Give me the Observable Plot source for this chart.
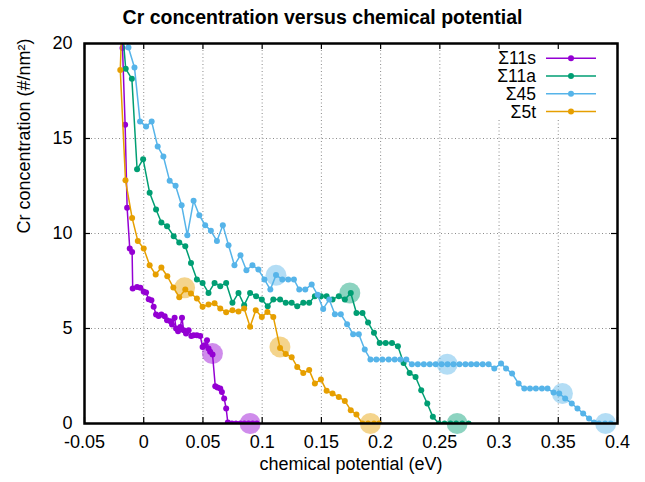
<!DOCTYPE html>
<html>
<head>
<meta charset="utf-8">
<script src="https://cdn.jsdelivr.net/npm/d3@7"></script>
<script src="https://cdn.jsdelivr.net/npm/@observablehq/plot@0.6"></script>
<style>
  body { margin: 0; background: #fff; font-family: "Liberation Sans", Arial, sans-serif; }
  #title { width: 645px; height: 33px; padding-top: 2px; line-height: 30px; text-align: center;
           font-weight: bold; font-size: 19.5px; color: #000; }
</style>
</head>
<body>
<div id="title">Cr concentration versus chemical potential</div>
<div id="chart"></div>
<script>
// ---- data ----
const seriesNames = ["Σ11s", "Σ11a", "Σ45", "Σ5t"];
const seriesColors = ["#9400d3", "#009e73", "#56b4e9", "#e69f00"];

const s11sX = [-0.0195, -0.0179, -0.0157, -0.014, -0.0118, -0.0098, -0.0093, -0.0056, -0.0028, 0, 0.002, 0.0042, 0.0065, 0.0084, 0.0104, 0.0126, 0.0149, 0.0177, 0.0197, 0.0225, 0.0239, 0.0261, 0.0273, 0.029, 0.0309, 0.0323, 0.0337, 0.0357, 0.0379, 0.0402, 0.0421, 0.0449, 0.0477, 0.0497, 0.0513, 0.0534, 0.0547, 0.0561, 0.0581, 0.0604, 0.0623, 0.0646, 0.066, 0.0679, 0.0696, 0.071, 0.0745, 0.078, 0.0815, 0.085, 0.0885, 0.092, 0.0955];
const s11sY = [21, 19.76, 15.72, 11.35, 9.21, 9.03, 7.1, 7.19, 7.14, 6.93, 6.9, 6.54, 6.49, 6.14, 5.74, 5.66, 5.74, 5.65, 5.44, 5.38, 5.21, 5.56, 5.0, 4.86, 5.08, 5.56, 4.91, 4.74, 4.91, 4.61, 4.65, 4.65, 4.61, 4.03, 4.12, 4.38, 3.95, 3.77, 3.63, 1.96, 1.89, 1.84, 1.66, 1.32, 0.79, 0.05, 0, 0, 0, 0, 0, 0, 0];

const s11aX = [-0.0183, -0.0152, -0.01, -0.0056, -0.0005, 0.005, 0.0104, 0.0149, 0.0197, 0.0253, 0.03, 0.0351, 0.0399, 0.0449, 0.0497, 0.0547, 0.0598, 0.0646, 0.0696, 0.0749, 0.08, 0.0848, 0.0898, 0.0949, 0.0997, 0.1047, 0.1094, 0.1151, 0.1199, 0.1249, 0.1296, 0.1347, 0.1397, 0.1445, 0.1496, 0.1544, 0.1594, 0.1647, 0.1698, 0.1748, 0.1796, 0.1847, 0.1894, 0.1944, 0.1992, 0.2043, 0.2096, 0.2146, 0.2194, 0.2245, 0.2295, 0.2343, 0.2394, 0.2441, 0.2492, 0.254, 0.259, 0.2638, 0.2689, 0.2744];
const s11aY = [21, 18.67, 18.14, 13.38, 13.91, 12.14, 11.26, 10.58, 10.38, 9.86, 9.53, 9.33, 8.45, 7.58, 7.4, 6.87, 7.4, 7.23, 7.4, 6.35, 6.87, 6.23, 6.87, 6.7, 6.53, 6.17, 6.53, 6.53, 6.35, 6.35, 6.17, 6.35, 6.35, 6.7, 6.7, 6.7, 6.53, 6.7, 6.53, 6.87, 5.82, 5.82, 5.32, 4.77, 4.24, 4.24, 4.24, 4.07, 3.19, 2.66, 2.45, 1.75, 1.05, 0.35, 0, 0, 0, 0, 0, 0];

const s45X = [-0.0183, -0.0129, -0.0078, -0.0031, 0.002, 0.0067, 0.0118, 0.0166, 0.0219, 0.0269, 0.032, 0.0368, 0.0421, 0.0469, 0.0519, 0.0567, 0.0618, 0.0668, 0.0716, 0.0766, 0.0817, 0.0867, 0.0918, 0.0968, 0.1019, 0.1069, 0.1117, 0.117, 0.122, 0.1268, 0.1313, 0.1364, 0.1418, 0.1468, 0.1515, 0.1566, 0.1614, 0.1664, 0.1717, 0.1768, 0.1816, 0.1866, 0.1914, 0.1964, 0.2015, 0.2068, 0.2119, 0.2167, 0.2217, 0.2264, 0.2314, 0.2365, 0.2415, 0.2465, 0.2515, 0.2565, 0.2615, 0.2666, 0.2716, 0.2764, 0.2811, 0.2862, 0.2912, 0.296, 0.3017, 0.3059, 0.311, 0.3165, 0.3213, 0.3261, 0.3311, 0.3362, 0.3409, 0.346, 0.3508, 0.3558, 0.3614, 0.3662, 0.371, 0.376, 0.3802, 0.3844, 0.3895, 0.3943];
const s45Y = [21, 19.79, 18.74, 15.89, 15.63, 15.89, 14.58, 14.05, 12.77, 12.51, 11.49, 9.91, 11.72, 10.96, 10.44, 10.14, 9.61, 10.44, 9.38, 8.33, 8.86, 8.07, 8.33, 8.1, 7.58, 7.05, 7.81, 7.58, 7.58, 7.58, 7.05, 7.05, 7.32, 6.77, 6.03, 6.53, 5.75, 5.75, 5.23, 4.7, 4.7, 3.89, 3.37, 3.37, 3.37, 3.37, 3.37, 3.37, 3.37, 3.12, 3.12, 3.12, 3.12, 3.12, 3.12, 3.12, 3.12, 3.12, 3.12, 3.12, 3.12, 3.12, 3.12, 2.89, 3.16, 2.89, 2.63, 2.1, 1.84, 1.84, 1.84, 1.84, 1.84, 1.63, 1.58, 1.32, 1.05, 0.79, 0.53, 0.26, 0.05, 0, 0, 0];

const s5tX = [-0.0185, -0.0198, -0.0154, -0.0098, -0.005, 0, 0.005, 0.0101, 0.0149, 0.0199, 0.025, 0.03, 0.0351, 0.0399, 0.0449, 0.0497, 0.0547, 0.0598, 0.0646, 0.0696, 0.0749, 0.08, 0.0848, 0.0898, 0.0946, 0.0997, 0.1044, 0.1094, 0.1151, 0.1199, 0.1249, 0.1296, 0.1347, 0.1397, 0.1445, 0.1496, 0.1544, 0.1594, 0.1647, 0.1698, 0.1748, 0.1796, 0.1847, 0.1894, 0.1944, 0.1987];
const s5tY = [21, 18.61, 12.8, 10.82, 9.61, 9.21, 8.33, 7.84, 8.21, 7.75, 7.16, 6.65, 7.05, 6.84, 6.58, 6.14, 6.26, 6.33, 6.05, 5.86, 5.96, 5.89, 6.05, 5.09, 5.96, 5.61, 5.87, 5.61, 3.98, 3.66, 3.49, 2.98, 2.66, 2.81, 2.1, 2.32, 1.72, 1.58, 1.4, 1.19, 0.7, 0.47, 0, 0, 0, 0];

// highlighted points (large translucent circles)
const hl11sX = [0.058, 0.0898];        const hl11sY = [3.68, 0];
const hl11aX = [0.174, 0.2646];        const hl11aY = [6.87, 0];
const hl45X  = [0.1117, 0.2562, 0.3535, 0.39]; const hl45Y = [7.8, 3.12, 1.58, 0];
const hl5tX  = [0.0345, 0.115, 0.1914]; const hl5tY = [7.14, 4.03, 0];

const xTicks = [-0.05, 0, 0.05, 0.1, 0.15, 0.2, 0.25, 0.3, 0.35, 0.4];
const xTickLabels = ["-0.05", "0", "0.05", "0.1", "0.15", "0.2", "0.25", "0.3", "0.35", "0.4"];
const yTicks = [0, 5, 10, 15, 20];
const yTickLabels = ["0", "5", "10", "15", "20"];
const xLabel = "chemical potential (eV)";
const yLabel = "Cr concentration (#/nm²)";

// ---- build tables ----
const zip = (xs, ys) => xs.map((x, i) => ({x, y: ys[i]}));
const lines = [zip(s11sX, s11sY), zip(s11aX, s11aY), zip(s45X, s45Y), zip(s5tX, s5tY)];
const highlights = [zip(hl11sX, hl11sY), zip(hl11aX, hl11aY), zip(hl45X, hl45Y), zip(hl5tX, hl5tY)];

const W = 645, H = 447;
const mL = 84, mR = 28, mT = 8, mB = 59;
const fw = W - mL - mR, fh = H - mT - mB;

const marks = [
  Plot.gridX(xTicks, {stroke: "#8a8a8a", strokeOpacity: 1, strokeDasharray: "1,2.5"}),
  Plot.gridY(yTicks, {stroke: "#8a8a8a", strokeOpacity: 1, strokeDasharray: "1,2.5"}),
  // opaque legend background
  Plot.frame({fill: "white", stroke: null, insetLeft: 403, insetTop: 2, insetRight: 3, insetBottom: fh - 75}),
  // inward ticks on all four sides
  Plot.ruleX(xTicks, {stroke: "black", strokeWidth: 1.2, insetTop: fh - 6}),
  Plot.ruleX(xTicks, {stroke: "black", strokeWidth: 1.2, insetBottom: fh - 6}),
  Plot.ruleY(yTicks, {stroke: "black", strokeWidth: 1.2, insetRight: fw - 6}),
  Plot.ruleY(yTicks, {stroke: "black", strokeWidth: 1.2, insetLeft: fw - 6}),
];
lines.forEach((d, i) => {
  marks.push(Plot.line(d, {x: "x", y: "y", stroke: seriesColors[i], strokeWidth: 1.5, clip: true}));
  marks.push(Plot.dot(d, {x: "x", y: "y", r: 3, fill: seriesColors[i], stroke: null, clip: true}));
});
highlights.forEach((d, i) => {
  marks.push(Plot.dot(d, {x: "x", y: "y", r: 10.5, fill: seriesColors[i], fillOpacity: 0.45, stroke: null}));
});
marks.push(
  Plot.frame({stroke: "black", strokeWidth: 2.5}),
  Plot.axisX(xTicks, {tickSize: 0, tickPadding: 12, fontSize: 18, label: null,
    tickFormat: d => xTickLabels[xTicks.indexOf(d)]}),
  Plot.axisY(yTicks, {tickSize: 0, tickPadding: 12, fontSize: 18, label: null,
    tickFormat: d => yTickLabels[yTicks.indexOf(d)]}),
  Plot.text([xLabel], {text: d => d, frameAnchor: "bottom", dy: 46, fontSize: 18, fill: "black"}),
  Plot.text([yLabel], {text: d => d, frameAnchor: "left", dx: -60, rotate: -90, fontSize: 18, fill: "black"})
);

const chart = Plot.plot({
  width: W, height: H,
  marginLeft: mL, marginRight: mR, marginTop: mT, marginBottom: mB,
  x: {domain: [-0.05, 0.4]},
  y: {domain: [0, 20]},
  style: {fontFamily: "'Liberation Sans', Arial, sans-serif", fontSize: "18px", color: "black",
          background: "white", overflow: "visible"},
  marks
});
document.getElementById("chart").appendChild(chart);

// legend (inside plot, top right)
const svg = d3.select(chart);
const lg = svg.append("g");
seriesNames.forEach((name, i) => {
  const yy = 23.3 + i * 17.7;
  lg.append("text").attr("x", 536).attr("y", yy).attr("dy", "0.35em")
    .attr("text-anchor", "end").attr("font-size", 17.5).attr("fill", "black").text(name);
  lg.append("line").attr("x1", 546).attr("x2", 596).attr("y1", yy).attr("y2", yy)
    .attr("stroke", seriesColors[i]).attr("stroke-width", 1.5);
  lg.append("circle").attr("cx", 571).attr("cy", yy).attr("r", 3).attr("fill", seriesColors[i]);
});
</script>
</body>
</html>
